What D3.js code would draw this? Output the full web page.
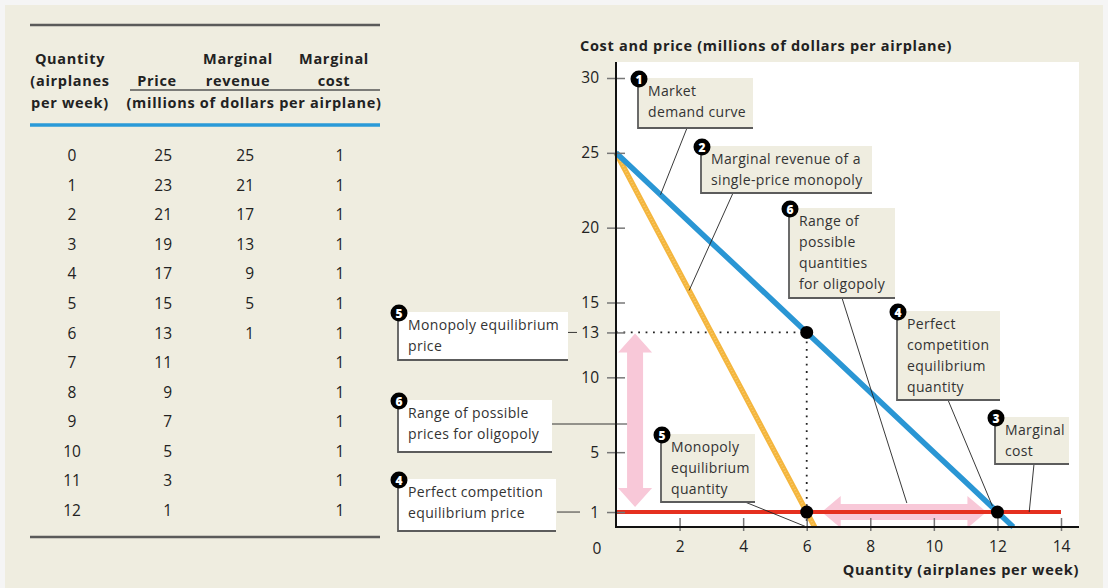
<!DOCTYPE html>
<html><head><meta charset="utf-8">
<script src="https://cdn.jsdelivr.net/npm/d3@7"></script>
<style>body{margin:0;background:#f5f5f5;} svg{display:block;font-family:"Open Sans",Lato,sans-serif;}</style>
</head><body><svg id="c" width="1108" height="588"></svg>
<script>
// ---------- data ----------
const quantity = [0,1,2,3,4,5,6,7,8,9,10,11,12];
const price = [25,23,21,19,17,15,13,11,9,7,5,3,1];
const marginalRevenue = [25,21,17,13,9,5,1];
const marginalCost = [1,1,1,1,1,1,1,1,1,1,1,1,1];
const demandEnd = {q:12.5, p:0};      // demand curve reaches the axis
const mrEnd = {q:6.25, p:0};          // MR curve reaches the axis
const mcRange = [0,14];               // MC line drawn across this quantity range
const equilibria = [{q:6,p:13},{q:6,p:1},{q:12,p:1}];
const monopolyEq = {q:6, p:13};
const oligopolyQuantityRange = [6,12];
const oligopolyPriceRange = [1,13];
const yTickValues = [1,5,10,13,15,20,25,30];
const xTickValues = [2,4,6,8,10,12,14];
const tableHeaders = {
  quantity:["Quantity","(airplanes","per week)"],
  price:["Price"],
  mr:["Marginal","revenue"],
  mc:["Marginal","cost"],
  units:"(millions of dollars per airplane)"
};
const yTitle = "Cost and price (millions of dollars per airplane)";
const xTitle = "Quantity (airplanes per week)";
const notes = {
  demand:["Market","demand curve"],
  mr:["Marginal revenue of a","single-price monopoly"],
  mc:["Marginal","cost"],
  pcQuantity:["Perfect","competition","equilibrium","quantity"],
  pcPrice:["Perfect competition","equilibrium price"],
  monoPrice:["Monopoly equilibrium","price"],
  monoQuantity:["Monopoly","equilibrium","quantity"],
  oligoQuantity:["Range of","possible","quantities","for oligopoly"],
  oligoPrice:["Range of possible","prices for oligopoly"]
};

// ---------- setup ----------
const svg = d3.select("#c");
const BEIGE = "#efede0";
const BOLD_SIZE = 14.5, BOLD_LS = 0.7, NOTE_SIZE = 14, NOTE_LS = 0.35, NUM_SIZE = 15.5;
svg.append("rect").attr("width",1108).attr("height",588).attr("fill","#f5f5f5");
svg.append("rect").attr("x",5).attr("y",5).attr("width",1098).attr("height",583).attr("fill",BEIGE);

function hline(g,x1,y1,x2,y2,color,w){
  g.append("line").attr("x1",x1).attr("y1",y1).attr("x2",x2).attr("y2",y2)
   .attr("stroke",color).attr("stroke-width",w);
}

// ---------- table ----------
const T = svg.append("g");
hline(T,30,25,380,25,"#5a5a5a",2.5);
const hdr = (txt,x,yy)=>T.append("text").attr("x",x).attr("y",yy).attr("text-anchor","middle")
  .attr("dominant-baseline","central").attr("font-weight","bold").attr("font-size",BOLD_SIZE)
  .attr("letter-spacing",BOLD_LS).attr("fill","#222").text(txt);
tableHeaders.quantity.forEach((t,i)=>hdr(t,70,58+i*22));
hdr(tableHeaders.price[0],157,80);
tableHeaders.mr.forEach((t,i)=>hdr(t,238,58+i*22));
tableHeaders.mc.forEach((t,i)=>hdr(t,334,58+i*22));
hdr(tableHeaders.units,254,102);
hline(T,130,90,380,90,"#555",1.3);
hline(T,30,125,380,125,"#2a9ad8",3.5);
hline(T,30,537,380,537,"#5a5a5a",2.5);
const rowY = d3.scaleLinear().domain([0,12]).range([155,510]);
const cell = (txt,x,yy,anchor)=>T.append("text").attr("x",x).attr("y",yy).attr("text-anchor",anchor)
  .attr("dominant-baseline","central").attr("font-size",NUM_SIZE).attr("fill","#222").text(txt);
quantity.forEach((q,i)=>{
  cell(q,72,rowY(i),"middle");
  cell(price[i],172,rowY(i),"end");
  if(i<marginalRevenue.length) cell(marginalRevenue[i],254,rowY(i),"end");
  cell(marginalCost[i],340,rowY(i),"middle");
});

// ---------- chart ----------
const x = d3.scaleLinear().domain([0,14]).range([616,1061]);
const y = d3.scaleLinear().domain([0,30]).range([527,78]);
const C = svg.append("g");
C.append("rect").attr("x",x(0)).attr("y",62).attr("width",1079-x(0)).attr("height",y(0)-62).attr("fill","#fff");

// pink arrows
const pink = "#f8c8d8";
function vArrow(cx,y0,y1){
  const hl=19,hh=17,sh=8;
  return `M${cx},${y0}L${cx+hh},${y0+hl}L${cx+sh},${y0+hl}L${cx+sh},${y1-hl}L${cx+hh},${y1-hl}L${cx},${y1}`+
         `L${cx-hh},${y1-hl}L${cx-sh},${y1-hl}L${cx-sh},${y0+hl}L${cx-hh},${y0+hl}Z`;
}
function hArrow(cy,x0,x1){
  const hl=19,hh=16,sh=8;
  return `M${x0},${cy}L${x0+hl},${cy-hh}L${x0+hl},${cy-sh}L${x1-hl},${cy-sh}L${x1-hl},${cy-hh}L${x1},${cy}`+
         `L${x1-hl},${cy+hh}L${x1-hl},${cy+sh}L${x0+hl},${cy+sh}L${x0+hl},${cy+hh}Z`;
}
const vx = x(0.6);
C.append("path").attr("d",vArrow(vx,y(oligopolyPriceRange[1])+1,y(oligopolyPriceRange[0])-5)).attr("fill",pink);
C.append("path").attr("d",hArrow(y(1),x(oligopolyQuantityRange[0])+15,x(oligopolyQuantityRange[1])-11)).attr("fill",pink);

// dotted guides
C.append("path").attr("d",`M${x(0)},${y(monopolyEq.p)}H${x(monopolyEq.q)}V${y(0)}`)
  .attr("fill","none").attr("stroke","#222").attr("stroke-width",1.8).attr("stroke-dasharray","1.8,5.6");

// curves
const line = d3.line().x(d=>x(d.q)).y(d=>y(d.p));
const mrPts = marginalRevenue.map((v,i)=>({q:quantity[i],p:v})).concat([mrEnd]);
const dPts = price.map((v,i)=>({q:quantity[i],p:v})).concat([demandEnd]);
C.append("path").attr("d",line(mrPts)).attr("fill","none").attr("stroke","#f4b63e").attr("stroke-width",5.5);
C.append("path").attr("d",line(mrPts)).attr("fill","none").attr("stroke","#fbd27a").attr("stroke-width",2)
  .attr("stroke-dasharray","1,2").attr("opacity",0.7);
C.append("path").attr("d",line(dPts)).attr("fill","none").attr("stroke","#2a96d4").attr("stroke-width",5.5);
C.append("path").attr("d",line([{q:mcRange[0],p:marginalCost[0]},{q:mcRange[1],p:marginalCost[12]}]))
  .attr("fill","none").attr("stroke","#e5301f").attr("stroke-width",4);

// axes
const yAx = C.append("g").attr("transform",`translate(${x(0)},0)`)
  .call(d3.axisLeft(y).tickValues(yTickValues).tickSize(9).tickPadding(8).tickFormat(d3.format("d")));
yAx.select(".domain").remove();
yAx.selectAll(".tick line").attr("x1",9).attr("stroke","#777").attr("stroke-width",1.5);
yAx.selectAll(".tick text").attr("font-size",NUM_SIZE).attr("fill","#222").attr("font-family","Open Sans");
const xAx = C.append("g").attr("transform",`translate(0,${y(0)})`)
  .call(d3.axisBottom(x).tickValues(xTickValues).tickSize(4).tickPadding(10).tickFormat(d3.format("d")));
xAx.select(".domain").remove();
xAx.selectAll(".tick line").attr("y1",-9).attr("stroke","#777").attr("stroke-width",1.5);
xAx.selectAll(".tick text").attr("font-size",NUM_SIZE).attr("fill","#222").attr("font-family","Open Sans");
C.append("text").attr("x",x(0)-19).attr("y",y(0)+21).attr("text-anchor","middle").attr("dominant-baseline","central")
  .attr("font-size",NUM_SIZE).attr("fill","#222").text(0);
hline(C,x(0),62,x(0),y(0)+1,"#111",2);
hline(C,x(0)-1,y(0),1079,y(0),"#111",2);

// equilibrium dots
C.selectAll("circle.eq").data(equilibria).join("circle").attr("class","eq")
  .attr("cx",d=>x(d.q)).attr("cy",d=>y(d.p)).attr("r",6.5).attr("fill","#000");

// titles
C.append("text").attr("x",580).attr("y",45).attr("dominant-baseline","central").attr("font-weight","bold")
  .attr("font-size",BOLD_SIZE).attr("letter-spacing",BOLD_LS).attr("fill","#222").text(yTitle);
C.append("text").attr("x",1079).attr("y",569).attr("text-anchor","end").attr("dominant-baseline","central")
  .attr("font-weight","bold").attr("font-size",BOLD_SIZE).attr("letter-spacing",BOLD_LS).attr("fill","#222").text(xTitle);

// ---------- annotations ----------
const A = svg.append("g");
function leader(x1,y1,x2,y2){ hline(A,x1,y1,x2,y2,"#222",0.9); }
function note(num,lines,bx,by,bw,bh,fill){
  A.append("rect").attr("x",bx).attr("y",by).attr("width",bw).attr("height",bh).attr("fill",fill);
  A.append("path").attr("d",`M${bx},${by}V${by+bh}H${bx+bw}`).attr("fill","none").attr("stroke","#5c5c5c").attr("stroke-width",1.8);
  lines.forEach((t,i)=>A.append("text").attr("x",bx+10).attr("y",by+12+i*21).attr("dominant-baseline","central")
    .attr("font-size",NOTE_SIZE).attr("letter-spacing",NOTE_LS).attr("fill","#333").text(t));
  A.append("circle").attr("cx",bx+1).attr("cy",by+1).attr("r",8.5).attr("fill","#000");
  A.append("text").attr("x",bx+1).attr("y",by+1.5).attr("text-anchor","middle").attr("dominant-baseline","central")
    .attr("font-size",12).attr("font-weight","800").attr("fill","#fff").text(num);
}
leader(687,128,x(1.4),y(22.2));
leader(733,193,x(2.3),y(15.8));
leader(842,298,x(9.15),y(1)-9);
leader(948,400,x(12)-5,y(1)-6);
leader(1034,464,x(13),y(1));
leader(745,502,x(6),y(0));
leader(568,y(13),577,y(13));
leader(552,424,vx-8,424);
leader(557,y(1),580,y(1));

note("1",notes.demand,638,78,115,50,BEIGE);
note("2",notes.mr,701,146,171,47,BEIGE);
note("6",notes.oligoQuantity,789,208,106,90,BEIGE);
note("4",notes.pcQuantity,897,311,103,89,BEIGE);
note("3",notes.mc,995,417,74,47,BEIGE);
note("5",notes.monoQuantity,661,434,94,68,BEIGE);
note("5",notes.monoPrice,398,312,170,48,"#fff");
note("6",notes.oligoPrice,398,400,154,52,"#fff");
note("4",notes.pcPrice,398,479,158,52,"#fff");
</script></body></html>
